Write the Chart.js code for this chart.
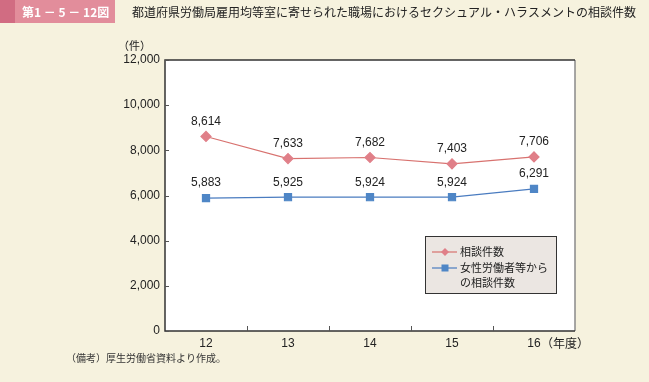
<!DOCTYPE html>
<html>
<head>
<meta charset="utf-8">
<script src="https://cdn.jsdelivr.net/npm/chart.js@4.4.0/dist/chart.umd.min.js"></script>
<style>
  html, body { margin: 0; padding: 0; background: #f6f2de; }
  #wrap { width: 649px; height: 382px; position: relative; }
</style>
</head>
<body>
<div id="wrap"><canvas id="myChart" width="649" height="382"></canvas></div>
<script>
// data
const years = ['12', '13', '14', '15', '16'];
const soudan = [8614, 7633, 7682, 7403, 7706];
const josei = [5883, 5925, 5924, 5924, 6291];
const yTicks = [0, 2000, 4000, 6000, 8000, 10000, 12000];

const FONT = "'Liberation Sans', Arial, 'Noto Sans CJK JP', sans-serif";
const JFONT = "'Noto Sans CJK JP', 'Liberation Sans', sans-serif";

function fmt(v) { return v.toLocaleString('en-US'); }

const decor = {
    id: 'decor',
    beforeDraw(chart) {
        const c = chart.ctx;
        const a = chart.chartArea;
        c.save();
        c.fillStyle = '#f6f2de';
        c.fillRect(0, 0, chart.width, chart.height);
        // header
        c.fillStyle = '#e28d9b';
        c.fillRect(0, 0, 115, 23);
        c.fillStyle = '#d16c82';
        c.fillRect(0, 0, 15, 23);
        c.fillStyle = '#ffffff';
        c.font = 'bold 12px ' + JFONT;
        c.textBaseline = 'middle';
        c.fillText('第1 － 5 － 12図', 22, 12);
        c.fillStyle = '#222';
        c.font = '12px ' + JFONT;
        c.fillText('都道府県労働局雇用均等室に寄せられた職場におけるセクシュアル・ハラスメントの相談件数', 132, 12);
        // plot area
        c.fillStyle = '#ffffff';
        c.fillRect(a.left, a.top, a.right - a.left, a.bottom - a.top);
        c.restore();
    },
    afterDatasetsDraw(chart) {
        const c = chart.ctx;
        const a = chart.chartArea;
        const xs = chart.scales.x;
        const ys = chart.scales.y;
        c.save();
        // frame
        c.strokeStyle = '#8a8a8a';
        c.lineWidth = 1.5;
        c.beginPath();
        c.moveTo(a.right, a.top); c.lineTo(a.right, a.bottom);
        c.stroke();
        c.strokeStyle = '#333';
        c.beginPath();
        c.moveTo(a.right, a.top); c.lineTo(a.left, a.top);
        c.lineTo(a.left, a.bottom); c.lineTo(a.right, a.bottom);
        c.stroke();
        // inward ticks
        c.lineWidth = 1;
        c.strokeStyle = '#555';
        c.beginPath();
        yTicks.forEach(v => {
            const y = Math.round(ys.getPixelForValue(v)) + 0.5;
            c.moveTo(a.left, y); c.lineTo(a.left + 4, y);
        });
        const step = xs.getPixelForValue(1) - xs.getPixelForValue(0);
        for (let i = 1; i < years.length; i++) {
            const x = Math.round(xs.getPixelForValue(i) - step / 2) + 0.5;
            c.moveTo(x, a.bottom); c.lineTo(x, a.bottom - 5);
        }
        c.stroke();
        // value labels
        c.fillStyle = '#222';
        c.font = '12px ' + FONT;
        c.textAlign = 'center';
        c.textBaseline = 'bottom';
        chart.data.datasets.forEach((ds, di) => {
            const meta = chart.getDatasetMeta(di);
            meta.data.forEach((pt, i) => {
                c.fillText(fmt(ds.data[i]), pt.x, pt.y - 9);
            });
        });
        // units
        c.textAlign = 'left';
        c.textBaseline = 'middle';
        c.font = '11px ' + JFONT;
        c.fillText('（件）', 118, 46);
        c.font = '12px ' + JFONT;
        c.fillText('（年度）', xs.getPixelForValue(4) + 7, 343);
        // footnote
        c.font = '10px ' + JFONT;
        c.fillStyle = '#333';
        c.fillText('（備考）厚生労働省資料より作成。', 66, 358);
        // legend box
        const lx = 425, ly = 236, lw = 131, lh = 57;
        c.fillStyle = '#ebe6e2';
        c.fillRect(lx, ly, lw, lh);
        c.strokeStyle = '#333';
        c.lineWidth = 1;
        c.strokeRect(lx + 0.5, ly + 0.5, lw, lh);
        const rows = [ly + 16, ly + 32];
        chart.data.datasets.forEach((ds, di) => {
            const y = rows[di];
            c.strokeStyle = ds.borderColor;
            c.lineWidth = 1.2;
            c.beginPath();
            c.moveTo(lx + 7, y); c.lineTo(lx + 32, y);
            c.stroke();
            c.fillStyle = ds.pointBackgroundColor;
            if (ds.pointStyle === 'rectRot') {
                c.beginPath();
                c.moveTo(lx + 20, y - 4); c.lineTo(lx + 24, y);
                c.lineTo(lx + 20, y + 4); c.lineTo(lx + 16, y);
                c.closePath(); c.fill();
            } else {
                c.fillRect(lx + 16.5, y - 3.5, 7, 7);
            }
            c.fillStyle = '#222';
            c.font = '11px ' + JFONT;
            const lines = ds.legendLines;
            lines.forEach((t, k) => c.fillText(t, lx + 35, y + k * 15));
        });
        c.restore();
    }
};

const ctx = document.getElementById('myChart').getContext('2d');
const myChart = new Chart(ctx, {
    type: 'line',
    data: {
        labels: years,
        datasets: [{
            label: '相談件数',
            legendLines: ['相談件数'],
            data: soudan,
            borderColor: '#d8726f',
            borderWidth: 1.2,
            pointStyle: 'rectRot',
            pointRadius: 5,
            pointBackgroundColor: '#e07f88',
            pointBorderColor: '#e07f88',
            tension: 0
        }, {
            label: '女性労働者等からの相談件数',
            legendLines: ['女性労働者等から', 'の相談件数'],
            data: josei,
            borderColor: '#4a7cc0',
            borderWidth: 1.2,
            pointStyle: 'rect',
            pointRadius: 5,
            pointBackgroundColor: '#4f86c6',
            pointBorderColor: '#4f86c6',
            tension: 0
        }]
    },
    options: {
        responsive: false,
        animation: false,
        layout: { padding: { top: 60, right: 74, bottom: 0, left: 0 } },
        plugins: {
            legend: { display: false },
            tooltip: { enabled: false }
        },
        scales: {
            x: {
                offset: true,
                grid: { display: false, drawTicks: false, tickLength: 0 },
                border: { display: false },
                ticks: { color: '#222', font: { size: 12, family: FONT }, padding: 5 },
                afterFit(scale) { scale.height = 51; }
            },
            y: {
                min: 0,
                max: 12000,
                afterBuildTicks(scale) { scale.ticks = yTicks.map(v => ({ value: v })); },
                grid: { display: false, drawTicks: false, tickLength: 0 },
                border: { display: false },
                ticks: {
                    color: '#222',
                    font: { size: 12, family: FONT },
                    padding: 5,
                    callback: v => fmt(v)
                },
                afterFit(scale) { scale.width = 165; }
            }
        }
    },
    plugins: [decor]
});
</script>
</body>
</html>
